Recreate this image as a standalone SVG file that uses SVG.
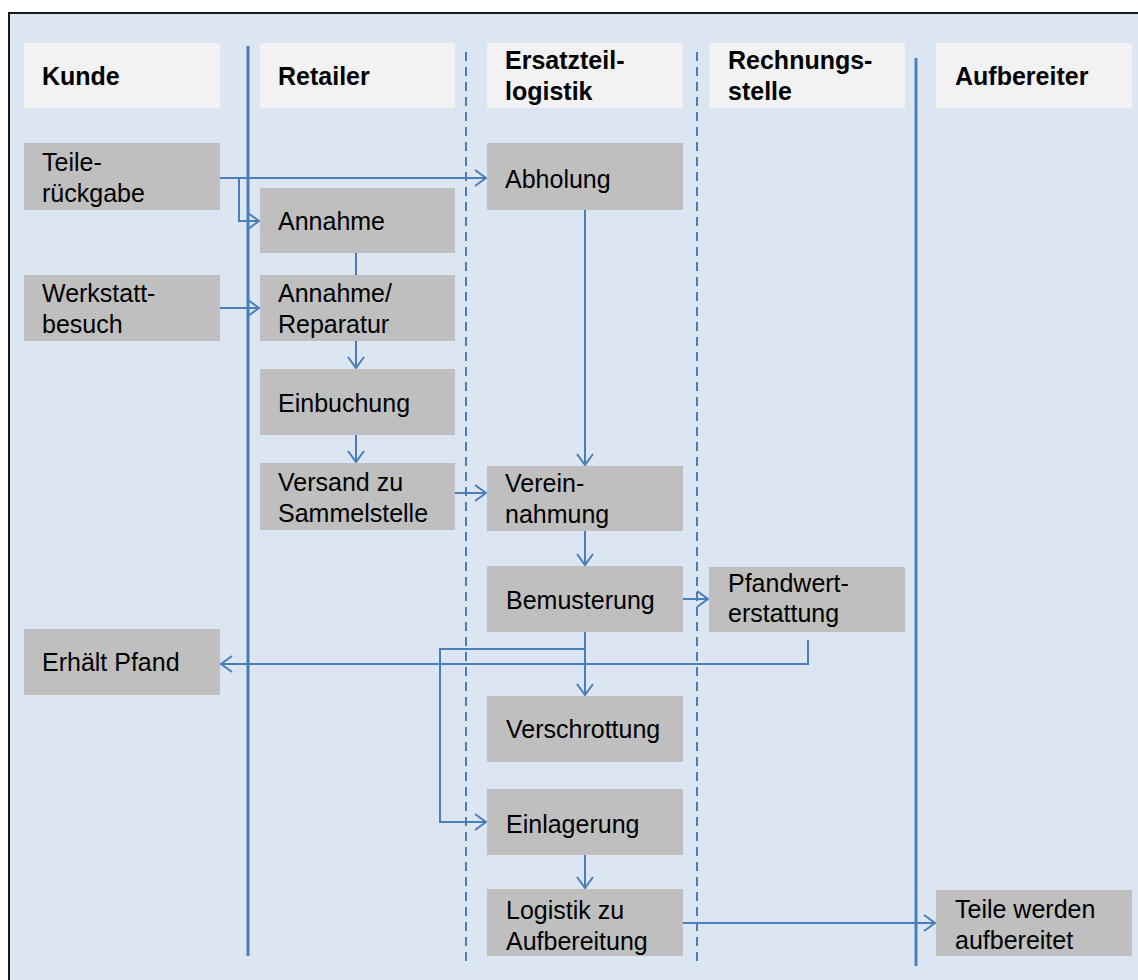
<svg xmlns="http://www.w3.org/2000/svg" width="1138" height="980" viewBox="0 0 1138 980">
<style>
.hdr{fill:#f2f2f2}
.box{fill:#bfbfbf}
.t{font-family:"Liberation Sans",Arial,sans-serif;font-size:25px;fill:#000}
.h{font-family:"Liberation Sans",Arial,sans-serif;font-size:25px;font-weight:bold;fill:#000}
.c{fill:none;stroke:#4a7ebb;stroke-width:2}
.solid{stroke:#4a7ebb;stroke-width:3}
.dash{stroke:#4a7ebb;stroke-width:2;stroke-dasharray:9 6}
</style>
<defs>
<marker id="a" viewBox="0 0 13 18" refX="12" refY="9" markerWidth="13" markerHeight="18" markerUnits="userSpaceOnUse" orient="auto">
<path d="M1,1 L12,9 L1,17" fill="none" stroke="#4a7ebb" stroke-width="2"/>
</marker>
</defs>
<rect x="0" y="0" width="1138" height="980" fill="#ffffff"/>
<rect x="9" y="13" width="1140" height="980" fill="#dce6f2" stroke="#1a1a1a" stroke-width="2"/>
<g id="lanes">
<rect class="hdr" x="24" y="43" width="196" height="65"/>
<rect class="hdr" x="260" y="43" width="195" height="65"/>
<rect class="hdr" x="487" y="43" width="196" height="65"/>
<rect class="hdr" x="709" y="43" width="196" height="65"/>
<rect class="hdr" x="936" y="43" width="196" height="65"/>
<text class="h" x="42" y="85">Kunde</text>
<text class="h" x="278" y="85">Retailer</text>
<text class="h" x="505" y="69">Ersatzteil-<tspan x="505" y="100">logistik</tspan></text>
<text class="h" x="728" y="69">Rechnungs-<tspan x="728" y="100">stelle</tspan></text>
<text class="h" x="955" y="85">Aufbereiter</text>
<line class="solid" x1="248" y1="46" x2="248" y2="956"/>
<line class="solid" x1="916" y1="58" x2="916" y2="966"/>
<line class="dash" x1="466" y1="52" x2="466" y2="962"/>
<line class="dash" x1="697" y1="52" x2="697" y2="962"/>
</g>
<g id="connectors">
<path class="c" d="M220,178 H486" marker-end="url(#a)"/>
<path class="c" d="M239,178 V221 H259" marker-end="url(#a)"/>
<path class="c" d="M356,253 V275"/>
<path class="c" d="M220,308 H259" marker-end="url(#a)"/>
<path class="c" d="M356,341 V368" marker-end="url(#a)"/>
<path class="c" d="M356,435 V462" marker-end="url(#a)"/>
<path class="c" d="M455,493 H486" marker-end="url(#a)"/>
<path class="c" d="M585,210 V465" marker-end="url(#a)"/>
<path class="c" d="M585,531 V565" marker-end="url(#a)"/>
<path class="c" d="M683,599 H708" marker-end="url(#a)"/>
<path class="c" d="M585,632 V695" marker-end="url(#a)"/>
<path class="c" d="M585,649 H440 V822 H486" marker-end="url(#a)"/>
<path class="c" d="M808,640 V664 H221" marker-end="url(#a)"/>
<path class="c" d="M585,855 V888" marker-end="url(#a)"/>
<path class="c" d="M683,923 H935" marker-end="url(#a)"/>
</g>
<g id="n-teile"><rect class="box" x="24" y="143" width="196" height="67"/><text class="t" x="42" y="171">Teile-<tspan x="42" y="202">rückgabe</tspan></text></g>
<g id="n-annahme"><rect class="box" x="260" y="188" width="195" height="65"/><text class="t" x="278" y="230">Annahme</text></g>
<g id="n-werkstatt"><rect class="box" x="24" y="275" width="196" height="66"/><text class="t" x="42" y="302">Werkstatt-<tspan x="42" y="333">besuch</tspan></text></g>
<g id="n-reparatur"><rect class="box" x="260" y="275" width="195" height="66"/><text class="t" x="278" y="302">Annahme/<tspan x="278" y="333">Reparatur</tspan></text></g>
<g id="n-einbuchung"><rect class="box" x="260" y="369" width="195" height="66"/><text class="t" x="278" y="412">Einbuchung</text></g>
<g id="n-versand"><rect class="box" x="260" y="463" width="195" height="67"/><text class="t" x="278" y="491">Versand zu<tspan x="278" y="522">Sammelstelle</tspan></text></g>
<g id="n-abholung"><rect class="box" x="487" y="143" width="196" height="67"/><text class="t" x="505" y="188">Abholung</text></g>
<g id="n-verein"><rect class="box" x="487" y="466" width="196" height="65"/><text class="t" x="505" y="492">Verein-<tspan x="505" y="523">nahmung</tspan></text></g>
<g id="n-bemusterung"><rect class="box" x="487" y="566" width="196" height="66"/><text class="t" x="506" y="609">Bemusterung</text></g>
<g id="n-pfandwert"><rect class="box" x="709" y="567" width="196" height="65"/><text class="t" x="728" y="592">Pfandwert-<tspan x="728" y="622">erstattung</tspan></text></g>
<g id="n-pfand"><rect class="box" x="24" y="629" width="196" height="66"/><text class="t" x="42" y="671">Erhält Pfand</text></g>
<g id="n-verschrottung"><rect class="box" x="487" y="696" width="196" height="66"/><text class="t" x="506" y="738">Verschrottung</text></g>
<g id="n-einlagerung"><rect class="box" x="487" y="789" width="196" height="66"/><text class="t" x="506" y="833">Einlagerung</text></g>
<g id="n-logistik"><rect class="box" x="487" y="889" width="196" height="67"/><text class="t" x="506" y="919">Logistik zu<tspan x="506" y="950">Aufbereitung</tspan></text></g>
<g id="n-aufbereitet"><rect class="box" x="936" y="890" width="196" height="66"/><text class="t" x="955" y="918">Teile werden<tspan x="955" y="949">aufbereitet</tspan></text></g>
</svg>
